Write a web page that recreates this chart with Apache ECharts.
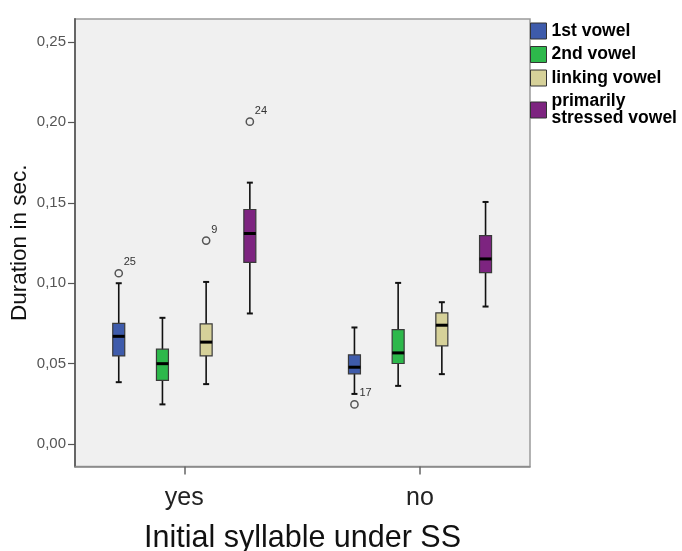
<!DOCTYPE html>
<html>
<head>
<meta charset="utf-8">
<script src="https://cdn.jsdelivr.net/npm/echarts@6/dist/echarts.min.js"></script>
<style>
  html, body { margin: 0; padding: 0; background: #ffffff; }
  #chart { width: 682px; height: 551px; }
</style>
</head>
<body>
<div id="chart"></div>
<script>
// Categories on the x axis
const groups = ['yes', 'no'];
// Box series (legend order)
const vowels = ['1st vowel', '2nd vowel', 'linking vowel', 'primarily\nstressed vowel'];
const vowelColors = ['#3E5BAB', '#2DB84B', '#D6D199', '#7D2480'];

// Five-number summaries per group: [lower whisker, Q1, median, Q3, upper whisker]
const firstVowel    = [[0.0385, 0.0548, 0.0670, 0.0750, 0.1000], [0.0312, 0.0437, 0.0478, 0.0555, 0.0725]];
const secondVowel   = [[0.0247, 0.0396, 0.0500, 0.0590, 0.0785], [0.0362, 0.0501, 0.0567, 0.0712, 0.1002]];
const linkingVowel  = [[0.0373, 0.0549, 0.0634, 0.0747, 0.1008], [0.0435, 0.0611, 0.0739, 0.0816, 0.0882]];
const stressedVowel = [[0.0812, 0.1129, 0.1309, 0.1458, 0.1625], [0.0855, 0.1066, 0.1151, 0.1296, 0.1505]];
const summaries = [firstVowel, secondVowel, linkingVowel, stressedVowel];

// Outliers: [group index, vowel index, duration, case number]
const outliers = [
  [0, 0, 0.1062, '25'],
  [0, 2, 0.1265, '9'],
  [0, 3, 0.2004, '24'],
  [1, 0, 0.0247, '17']
];

// Y axis tick values
const yTicks = [0, 0.05, 0.10, 0.15, 0.20, 0.25];

const FONT = 'Arial, "Liberation Sans", Helvetica, sans-serif';
// Distance between neighbouring boxes, as a share of one category step
const SLOT = 0.1854;
const BOX_HALF = 6;
const CAP_HALF = 3;

function boxX(api, g, k) {
  const step = api.size([1, 0])[0];
  return api.coord([g, 0])[0] + (k - 1.5) * step * SLOT;
}

function boxRenderer(k) {
  return function (params, api) {
    const g = api.value(0);
    const cx = boxX(api, g, k);
    const y = i => api.coord([g, api.value(i)])[1];
    const yMin = y(1), yQ1 = y(2), yMed = y(3), yQ3 = y(4), yMax = y(5);
    const ink = { stroke: '#111', lineWidth: 1.6 };
    return {
      type: 'group',
      children: [
        { type: 'line', shape: { x1: cx, y1: yMax, x2: cx, y2: yMin }, style: ink },
        { type: 'line', shape: { x1: cx - CAP_HALF, y1: yMax, x2: cx + CAP_HALF, y2: yMax }, style: { stroke: '#111', lineWidth: 2 } },
        { type: 'line', shape: { x1: cx - CAP_HALF, y1: yMin, x2: cx + CAP_HALF, y2: yMin }, style: { stroke: '#111', lineWidth: 2 } },
        {
          type: 'rect',
          shape: { x: cx - BOX_HALF, y: yQ3, width: BOX_HALF * 2, height: yQ1 - yQ3 },
          style: { fill: vowelColors[k], stroke: '#3a3a3a', lineWidth: 1.2 }
        },
        { type: 'line', shape: { x1: cx - BOX_HALF, y1: yMed, x2: cx + BOX_HALF, y2: yMed }, style: { stroke: '#000', lineWidth: 3 } }
      ]
    };
  };
}

function outlierRenderer(params, api) {
  const g = api.value(0);
  const k = api.value(1);
  const cx = boxX(api, g, k);
  const cy = api.coord([g, api.value(2)])[1];
  const label = outliers[params.dataIndex][3];
  return {
    type: 'group',
    children: [
      { type: 'circle', shape: { cx: cx, cy: cy, r: 3.6 }, style: { fill: 'none', stroke: '#555', lineWidth: 1.5 } },
      {
        type: 'text',
        style: {
          x: cx + 5, y: cy - 11, text: label,
          fill: '#333', font: '11px ' + FONT,
          textAlign: 'left', textVerticalAlign: 'middle'
        }
      }
    ]
  };
}

const series = vowels.map((name, k) => ({
  type: 'custom',
  name: name,
  itemStyle: { color: vowelColors[k] },
  renderItem: boxRenderer(k),
  encode: { x: 0, y: [1, 2, 3, 4, 5] },
  data: summaries[k].map((s, g) => [g].concat(s)),
  z: 3
}));

series.push({
  type: 'custom',
  name: 'outliers',
  renderItem: outlierRenderer,
  encode: { x: 0, y: 2 },
  data: outliers.map(o => [o[0], o[1], o[2]]),
  z: 4
});

const chart = echarts.init(document.getElementById('chart'), null, { renderer: 'canvas' });
chart.setOption({
  animation: false,
  backgroundColor: '#ffffff',
  grid: {
    left: 75, top: 19, width: 455, height: 447.5,
    outerBoundsMode: 'none',
    containLabel: false,
    show: true, backgroundColor: '#F0F0F0', borderColor: '#9a9a9a', borderWidth: 1.5
  },
  legend: {
    data: vowels,
    orient: 'vertical',
    left: 525, top: 17,
    icon: 'rect',
    itemWidth: 16, itemHeight: 16, itemGap: 5.5,
    itemStyle: { borderColor: '#333', borderWidth: 1 },
    textStyle: { fontFamily: FONT, fontSize: 17.5, fontWeight: 'bold', color: '#000', lineHeight: 17 }
  },
  xAxis: {
    type: 'value',
    min: -0.4637, max: 1.4667,
    name: 'Initial syllable under SS',
    nameLocation: 'middle',
    nameGap: 57,
    nameMoveOverlap: false,
    nameTextStyle: { fontFamily: FONT, fontSize: 30.5, color: '#111' },
    splitLine: { show: false },
    axisLine: { show: true, onZero: false, lineStyle: { color: '#888', width: 1.5 } },
    axisTick: { show: true, customValues: [0, 1], length: 8, lineStyle: { color: '#666', width: 1.5 } },
    axisLabel: {
      customValues: [0, 1],
      formatter: v => groups[Math.round(v)],
      fontFamily: FONT, fontSize: 25, color: '#222', margin: 19
    }
  },
  yAxis: {
    type: 'value',
    min: -0.0139, max: 0.2642,
    name: 'Duration in sec.',
    nameLocation: 'middle',
    nameGap: 44,
    nameMoveOverlap: false,
    nameRotate: 90,
    nameTextStyle: { fontFamily: FONT, fontSize: 22.5, color: '#111' },
    splitLine: { show: false },
    axisLine: { show: true, onZero: false, lineStyle: { color: '#666', width: 2 } },
    axisTick: { show: true, customValues: yTicks, length: 7, lineStyle: { color: '#555', width: 1.2 } },
    axisLabel: {
      customValues: yTicks,
      formatter: v => v.toFixed(2).replace('.', ','),
      fontFamily: FONT, fontSize: 15, color: '#555', margin: 9
    }
  },
  series: series
});
</script>
</body>
</html>
